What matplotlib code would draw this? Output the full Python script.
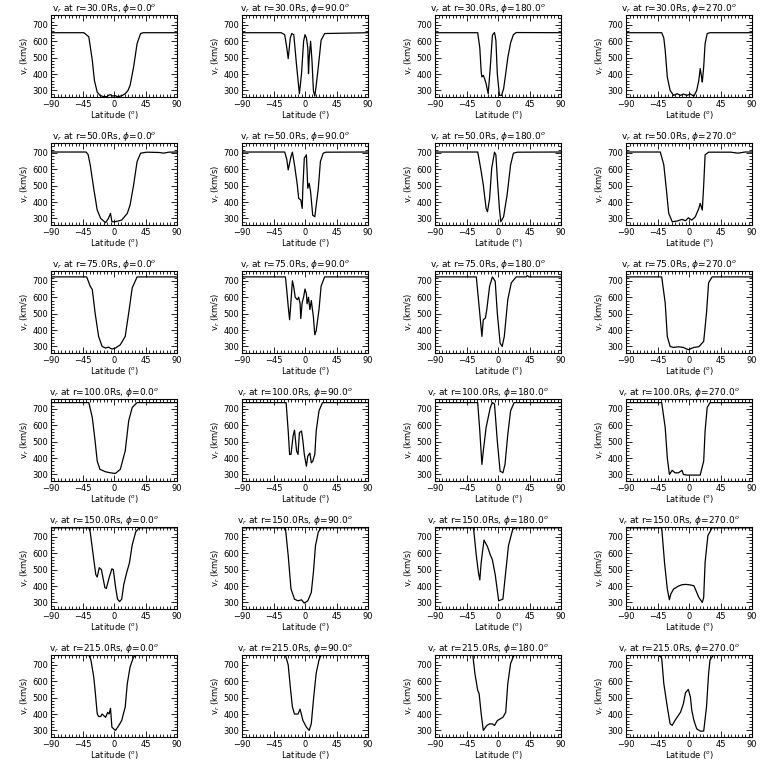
import matplotlib
matplotlib.use("Agg")
import matplotlib.pyplot as plt
from matplotlib.ticker import MultipleLocator

radii = [30.0, 50.0, 75.0, 100.0, 150.0, 215.0]
phis = [0.0, 90.0, 180.0, 270.0]

# r = 30 Rs
lat_r30_p0 = [-90, -43, -36, -31, -28, -24, -20, -15, -10, -7, -5, -2, 2, 5, 8, 12, 16, 20, 23, 28, 33, 38, 42, 90]
v_r30_p0 = [652, 652, 627, 484, 361, 290, 270, 262, 262, 272, 274, 266, 268, 262, 264, 270, 280, 300, 331, 443, 586, 647, 652, 652]
lat_r30_p90 = [-90, -34, -29, -26, -24, -21, -19, -16, -12, -8, -5, -2, 0, 2, 4, 5, 6, 8, 10, 12, 14, 16, 19, 23, 28, 90]
v_r30_p90 = [652, 652, 640, 560, 494, 620, 647, 640, 450, 280, 400, 600, 640, 620, 560, 402, 500, 600, 480, 300, 265, 330, 443, 606, 647, 652]
lat_r30_p180 = [-90, -29, -26, -24, -23, -21, -19, -17, -14, -11, -8, -5, -3, -1, 2, 5, 8, 11, 14, 18, 22, 26, 90]
v_r30_p180 = [652, 652, 560, 412, 382, 392, 370, 341, 280, 443, 637, 653, 606, 402, 270, 270, 310, 402, 500, 590, 640, 653, 652]
lat_r30_p270 = [-90, -39, -36, -34, -31, -27, -22, -17, -12, -8, -3, 2, 7, 11, 14, 16, 18, 19, 21, 23, 26, 30, 90]
v_r30_p270 = [652, 652, 620, 545, 382, 300, 270, 280, 270, 278, 270, 278, 265, 300, 361, 433, 380, 351, 443, 586, 647, 652, 652]

# r = 50 Rs
lat_r50_p0 = [-90, -40, -37, -34, -29, -24, -19, -12, -8, -5, -3, 2, 11, 19, 23, 28, 33, 38, 47, 65, 71, 78, 90]
v_r50_p0 = [705, 705, 690, 627, 484, 351, 300, 274, 300, 331, 280, 280, 290, 331, 382, 504, 647, 698, 704, 702, 698, 704, 705]
lat_r50_p90 = [-90, -29, -26, -24, -20, -18, -15, -11, -9, -6, -4, -3, -1, 2, 4, 6, 8, 11, 14, 19, 22, 26, 30, 90]
v_r50_p90 = [705, 705, 660, 596, 678, 704, 627, 504, 422, 412, 361, 494, 667, 688, 484, 514, 463, 320, 310, 484, 647, 698, 704, 705]
lat_r50_p180 = [-90, -29, -27, -24, -21, -17, -15, -12, -9, -5, -3, -1, 2, 4, 8, 13, 18, 22, 28, 90]
v_r50_p180 = [705, 705, 660, 586, 504, 361, 341, 422, 606, 704, 688, 545, 361, 280, 310, 443, 627, 698, 704, 705]
lat_r50_p270 = [-90, -41, -36, -32, -29, -24, -17, -10, -5, -1, 4, 9, 14, 16, 19, 21, 23, 28, 60, 70, 80, 90]
v_r50_p270 = [705, 705, 627, 463, 331, 280, 284, 294, 286, 304, 290, 310, 361, 392, 351, 504, 688, 704, 704, 698, 705, 705]

# r = 75 Rs
lat_r75_p0 = [-90, -39, -34, -31, -27, -22, -17, -12, -8, -3, 2, 9, 16, 21, 26, 33, 90]
v_r75_p0 = [724, 724, 667, 647, 504, 361, 300, 290, 296, 284, 290, 310, 361, 504, 657, 724, 724]
lat_r75_p90 = [-90, -28, -26, -24, -22, -20, -18, -16, -14, -11, -9, -7, -6, -4, -2, 0, 2, 3, 5, 7, 9, 12, 14, 16, 20, 23, 28, 90]
v_r75_p90 = [724, 724, 640, 545, 463, 576, 700, 660, 600, 585, 600, 560, 470, 570, 600, 650, 620, 560, 600, 525, 580, 480, 371, 396, 525, 667, 724, 724]
lat_r75_p180 = [-90, -31, -27, -23, -21, -18, -16, -12, -8, -4, -1, 3, 6, 9, 14, 19, 26, 40, 42, 44, 90]
v_r75_p180 = [724, 724, 545, 361, 463, 473, 525, 667, 724, 698, 504, 320, 300, 361, 586, 688, 724, 724, 732, 724, 724]
lat_r75_p270 = [-90, -39, -34, -31, -27, -22, -15, -8, -1, 7, 14, 21, 25, 28, 33, 90]
v_r75_p270 = [724, 724, 565, 361, 300, 294, 298, 294, 280, 294, 298, 331, 504, 688, 724, 724]

# r = 100 Rs
lat_r100_p0 = [-90, -36, -31, -27, -24, -20, -12, -5, 2, 9, 16, 21, 26, 33, 90]
v_r100_p0 = [738, 738, 647, 504, 382, 331, 316, 310, 306, 331, 443, 627, 708, 738, 738]
lat_r100_p90 = [-90, -27, -24, -22, -20, -17, -15, -12, -10, -8, -5, -3, -1, 2, 4, 7, 9, 11, 14, 16, 20, 25, 90]
v_r100_p90 = [738, 738, 565, 422, 422, 535, 570, 443, 422, 555, 565, 504, 422, 350, 412, 430, 371, 380, 422, 565, 688, 738, 738]
lat_r100_p180 = [-90, -29, -26, -23, -21, -17, -15, -11, -8, -5, -1, 3, 7, 10, 14, 18, 23, 90]
v_r100_p180 = [738, 738, 565, 361, 443, 586, 627, 708, 739, 729, 504, 320, 310, 361, 545, 688, 738, 738]
lat_r100_p270 = [-90, -39, -34, -31, -28, -24, -20, -15, -10, -8, -3, 16, 21, 23, 26, 30, 90]
v_r100_p270 = [738, 738, 586, 402, 300, 325, 310, 310, 325, 300, 296, 296, 382, 565, 708, 738, 738]

# r = 150 Rs
lat_r150_p0 = [-90, -36, -34, -29, -26, -24, -21, -18, -13, -11, -7, -3, -1, 2, 5, 8, 11, 14, 18, 22, 26, 31, 36, 90]
v_r150_p0 = [755, 755, 730, 565, 470, 455, 512, 500, 390, 385, 450, 505, 500, 400, 320, 305, 320, 410, 480, 540, 650, 730, 755, 755]
lat_r150_p90 = [-90, -28, -24, -20, -15, -10, -5, -1, 4, 9, 12, 15, 19, 23, 90]
v_r150_p90 = [755, 755, 586, 382, 320, 310, 316, 296, 310, 361, 484, 647, 729, 755, 755]
lat_r150_p180 = [-90, -35, -31, -28, -26, -24, -20, -15, -11, -8, -4, 1, 7, 11, 15, 21, 25, 90]
v_r150_p180 = [755, 755, 586, 484, 437, 545, 680, 640, 590, 560, 470, 310, 320, 484, 647, 745, 755, 755]
lat_r150_p270 = [-90, -39, -35, -31, -28, -26, -22, -15, -10, -5, 0, 7, 14, 19, 21, 23, 27, 33, 90]
v_r150_p270 = [755, 755, 545, 382, 316, 351, 382, 400, 408, 410, 408, 402, 331, 300, 331, 545, 708, 755, 755]

# r = 215 Rs
lat_r215_p0 = [-90, -36, -33, -29, -27, -24, -22, -19, -17, -12, -9, -7, -5, -3, 2, 7, 11, 16, 19, 23, 28, 33, 90]
v_r215_p0 = [760, 760, 730, 627, 545, 402, 385, 385, 400, 380, 410, 400, 435, 320, 300, 331, 361, 443, 586, 688, 748, 760, 760]
lat_r215_p90 = [-90, -28, -24, -21, -18, -15, -10, -7, -3, 2, 6, 9, 12, 16, 20, 23, 90]
v_r215_p90 = [760, 760, 700, 565, 443, 400, 400, 430, 361, 320, 300, 341, 484, 650, 729, 760, 760]
lat_r215_p180 = [-90, -36, -33, -29, -27, -24, -21, -16, -12, -8, -5, -1, 7, 11, 14, 18, 23, 90]
v_r215_p180 = [760, 760, 647, 545, 525, 400, 300, 330, 340, 340, 330, 360, 380, 410, 586, 708, 760, 760]
lat_r215_p270 = [-90, -43, -39, -36, -31, -27, -24, -20, -12, -8, -5, -1, 2, 4, 7, 11, 16, 21, 25, 28, 30, 35, 90]
v_r215_p270 = [760, 760, 740, 586, 443, 341, 331, 361, 412, 463, 530, 550, 504, 422, 361, 310, 296, 296, 443, 647, 730, 760, 760]

lats = [[lat_r30_p0, lat_r30_p90, lat_r30_p180, lat_r30_p270],
        [lat_r50_p0, lat_r50_p90, lat_r50_p180, lat_r50_p270],
        [lat_r75_p0, lat_r75_p90, lat_r75_p180, lat_r75_p270],
        [lat_r100_p0, lat_r100_p90, lat_r100_p180, lat_r100_p270],
        [lat_r150_p0, lat_r150_p90, lat_r150_p180, lat_r150_p270],
        [lat_r215_p0, lat_r215_p90, lat_r215_p180, lat_r215_p270]]
vels = [[v_r30_p0, v_r30_p90, v_r30_p180, v_r30_p270],
        [v_r50_p0, v_r50_p90, v_r50_p180, v_r50_p270],
        [v_r75_p0, v_r75_p90, v_r75_p180, v_r75_p270],
        [v_r100_p0, v_r100_p90, v_r100_p180, v_r100_p270],
        [v_r150_p0, v_r150_p90, v_r150_p180, v_r150_p270],
        [v_r215_p0, v_r215_p90, v_r215_p180, v_r215_p270]]

xticks = [-90, -45, 0, 45, 90]
yticks = [300, 400, 500, 600, 700]

W = H = 768
fig = plt.figure(figsize=(7.68, 7.68), dpi=100)
plt.rcParams['font.family'] = ['DejaVu Sans']
fs = 6

col_left = [51, 242, 435, 626]
row_top = [15, 143, 271, 399, 527, 655]
aw, ah = 126, 82

for i, r in enumerate(radii):
    for j, p in enumerate(phis):
        ax = fig.add_axes([col_left[j] / W, 1 - (row_top[i] + ah) / H, aw / W, ah / H])
        ax.plot(lats[i][j], vels[i][j], color='black', lw=0.9)
        ax.set_xlim(-90, 90)
        ax.set_ylim(260, 760)
        ax.set_xticks(xticks)
        ax.set_yticks(yticks)
        ax.xaxis.set_minor_locator(MultipleLocator(5))
        ax.yaxis.set_minor_locator(MultipleLocator(20))
        ax.tick_params(which='both', direction='in', top=True, right=True,
                       labelsize=fs, pad=2, width=0.6)
        ax.tick_params(which='major', length=4)
        ax.tick_params(which='minor', length=2)
        for s in ax.spines.values():
            s.set_linewidth(0.8)
        ax.set_title(r"v$_r$ at r=%.1fRs, $\phi$=%.1f$^o$" % (r, p), fontsize=fs + 0.5, pad=2, x=0.42)
        ax.set_xlabel(r"Latitude ($^o$)", fontsize=fs, labelpad=0)
        ax.set_ylabel(r"v$_r$ (km/s)", fontsize=fs, labelpad=1)

fig.savefig("out.png", dpi=100)
